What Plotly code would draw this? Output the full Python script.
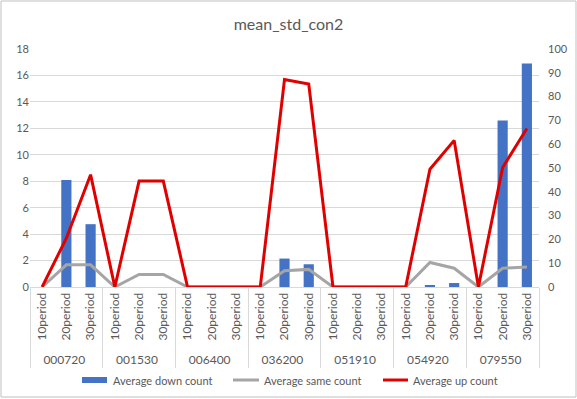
import plotly.graph_objects as go

groups = ["000720", "001530", "006400", "036200", "051910", "054920", "079550"]
periods = ["10period", "20period", "30period"]

down_count = [0, 8.1, 4.75, 0, 0, 0, 0, 0, 0, 0, 2.15, 1.72, 0, 0, 0, 0, 0.1, 0.3, 0, 12.6, 16.9]
same_count = [0, 9.3, 9.3, 0, 5.3, 5.3, 0, 0, 0, 0, 6.8, 7.4, 0, 0, 0, 0, 10.3, 7.9, 0, 7.9, 8.4]
up_count = [0, 20.5, 47.2, 0, 44.5, 44.5, 0, 0, 0, 0, 87.2, 85.3, 0, 0, 0, 0, 49.5, 61.6, 0, 50.2, 66.6]

series_names = ["Average down count", "Average same count", "Average up count"]
series_colors = ["#4472C4", "#A5A5A5", "#E00000"]

outer = [g for g in groups for _ in periods]
inner = [p for _ in groups for p in periods]
x = [outer, inner]

font_family = "Lato, 'Open Sans', sans-serif"
tick_color = "#595959"

W, H = 577, 399
ML, MR, MT, MB = 30, 38, 49, 112
PW, PH = W - ML - MR, H - MT - MB


def px(xp):
    return (xp - ML) / PW


def py(yp):
    return (H - MB - yp) / PH


fig = go.Figure()
fig.add_trace(go.Bar(x=x, y=down_count, name=series_names[0],
                     marker=dict(color=series_colors[0], line=dict(width=0)), yaxis="y"))
fig.add_trace(go.Scatter(x=x, y=same_count, name=series_names[1], mode="lines",
                         line=dict(color=series_colors[1], width=3), yaxis="y2"))
fig.add_trace(go.Scatter(x=x, y=up_count, name=series_names[2], mode="lines",
                         line=dict(color=series_colors[2], width=3), yaxis="y2"))

shapes = [dict(type="rect", xref="paper", yref="paper", x0=px(1), x1=px(576),
               y0=py(397), y1=py(1), line=dict(color="#BFBFBF", width=1))]
annotations = []

# legend drawn manually (Excel style)
leg_y = 380
leg_items = [(82, 107, 111), (233, 259, 262), (383, 408, 411)]
for i, (s0, s1, tx) in enumerate(leg_items):
    if i == 0:
        shapes.append(dict(type="rect", xref="paper", yref="paper", x0=px(s0), x1=px(s1),
                           y0=py(leg_y + 3), y1=py(leg_y - 3),
                           fillcolor=series_colors[0], line=dict(width=0)))
    else:
        shapes.append(dict(type="line", xref="paper", yref="paper", x0=px(s0), x1=px(s1),
                           y0=py(leg_y), y1=py(leg_y),
                           line=dict(color=series_colors[i], width=3)))
    annotations.append(dict(text=series_names[i], xref="paper", yref="paper",
                            x=px(tx), y=py(leg_y), xanchor="left", yanchor="middle",
                            showarrow=False, font=dict(size=11, color=tick_color)))

fig.update_layout(
    width=W, height=H,
    template="none",
    margin=dict(l=ML, r=MR, t=MT, b=MB, autoexpand=False),
    paper_bgcolor="white", plot_bgcolor="white",
    font=dict(family=font_family, size=11, color=tick_color),
    title=dict(text="mean_std_con2", x=0.5, xanchor="center", y=1 - 24 / H, yanchor="middle",
               font=dict(size=16, color=tick_color, family=font_family)),
    bargap=0.58,
    showlegend=False,
    xaxis=dict(type="multicategory", tickangle=-90, showline=True, linecolor="#D9D9D9",
               linewidth=1, showdividers=True, dividercolor="#D9D9D9", dividerwidth=1,
               ticks="", tickfont=dict(size=12, color=tick_color), showgrid=False,
               automargin=False),
    yaxis=dict(range=[0, 18], dtick=2, showgrid=True, gridcolor="#D9D9D9", gridwidth=1,
               zeroline=False, ticks="", showline=False, tickfont=dict(size=11, color=tick_color),
               automargin=False),
    yaxis2=dict(range=[0, 100], dtick=10, overlaying="y", side="right", showgrid=False,
                zeroline=False, ticks="", showline=False, tickfont=dict(size=11, color=tick_color),
                automargin=False, ticklabelstandoff=8),
    shapes=shapes,
    annotations=annotations,
)

fig.write_html("out.html", config={"displayModeBar": False},
               post_script="document.body.style.margin='0';")
